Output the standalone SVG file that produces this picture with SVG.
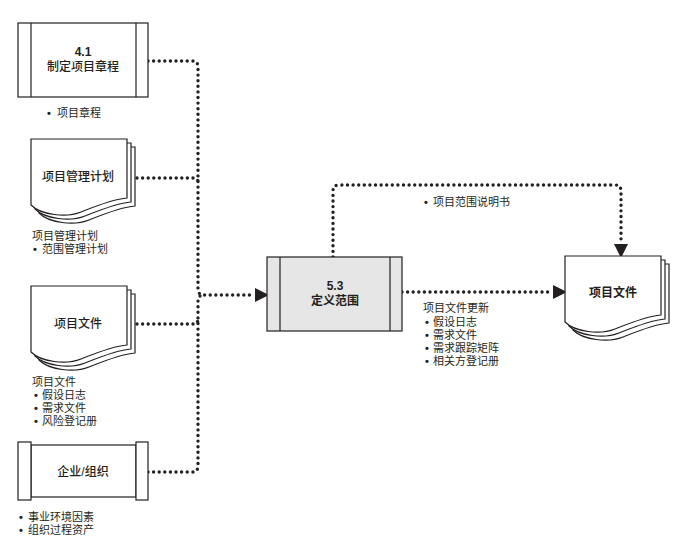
<svg xmlns="http://www.w3.org/2000/svg" xmlns:xlink="http://www.w3.org/1999/xlink" width="691" height="560" viewBox="0 0 691 560">
<style>
.sh{fill:#fff;stroke:#231f20;stroke-width:1.2}
.gr{fill:#e6e6e6;stroke:#231f20;stroke-width:1.2}
.dot{fill:none;stroke:#231f20;stroke-width:3.4;stroke-dasharray:0 5.6;stroke-linecap:round}
text{font-family:"Liberation Sans","Noto Sans CJK SC",sans-serif;fill:#231f20}
.t{font-size:12px;text-anchor:middle;font-weight:500}
.b{font-size:12px;text-anchor:middle;font-weight:bold}
.l{font-size:11px}
.bu{font-weight:bold}
</style>
<defs>
<path id="page" d="M0,0 H96 V59 C82,60 65,67 50,73 C35,79 10,76 0,66 Z"/>
<g id="doc">
<use xlink:href="#page" class="sh" transform="translate(8,8)"/>
<use xlink:href="#page" class="sh" transform="translate(4,4)"/>
<use xlink:href="#page" class="sh"/>
</g>
<marker id="ah" markerUnits="userSpaceOnUse" markerWidth="14" markerHeight="14" viewBox="0 0 12 12" refX="0" refY="6" orient="auto">
<path d="M0,0 L12,6 L0,12 Z" fill="#231f20"/>
</marker>
</defs>

<g id="connectors">
<path class="dot" d="M148,61 H192 Q198,61 198,67 V289 Q198,295 204,295 H255" marker-end="url(#ah)"/>
<path class="dot" d="M137,178 H193 Q198,178 198,182"/>
<path class="dot" d="M137,324 H193 Q198,324 198,319"/>
<path class="dot" d="M148,472 H192 Q198,472 198,466 V301 Q198,295 204,295"/>
<path class="dot" d="M333,257 V191 Q333,185 339,185 H615 Q621,185 621,191 V244" marker-end="url(#ah)"/>
<path class="dot" d="M402,292 H553" marker-end="url(#ah)"/>
</g>

<g id="n41">
<rect class="sh" x="18" y="23" width="130" height="74"/>
<line class="sh" x1="31" y1="23" x2="31" y2="97"/>
<line class="sh" x1="136" y1="23" x2="136" y2="97"/>
<text class="b" x="83" y="56">4.1</text>
<text class="t" x="83" y="71">制定项目章程</text>
<text class="l" x="47" y="117"><tspan class="bu">•</tspan><tspan x="57">项目章程</tspan></text>
</g>

<g id="pmplan">
<use xlink:href="#doc" transform="translate(31,139)"/>
<text class="t" x="78" y="181">项目管理计划</text>
<text class="l" x="32" y="240">项目管理计划</text>
<text class="l" x="33" y="253"><tspan class="bu">•</tspan><tspan x="42">范围管理计划</tspan></text>
</g>

<g id="pdocs">
<use xlink:href="#doc" transform="translate(31,286)"/>
<text class="t" x="78" y="328">项目文件</text>
<text class="l" x="32" y="386">项目文件</text>
<text class="l" x="34" y="399"><tspan class="bu">•</tspan><tspan x="42">假设日志</tspan></text>
<text class="l" x="34" y="412"><tspan class="bu">•</tspan><tspan x="42">需求文件</tspan></text>
<text class="l" x="34" y="425"><tspan class="bu">•</tspan><tspan x="42">风险登记册</tspan></text>
</g>

<g id="ent">
<rect class="sh" x="31" y="445" width="105" height="52"/>
<rect class="sh" x="18" y="442" width="13" height="58"/>
<rect class="sh" x="136" y="442" width="12" height="58"/>
<text class="t" x="83" y="476">企业/组织</text>
<text class="l" x="19" y="521"><tspan class="bu">•</tspan><tspan x="28">事业环境因素</tspan></text>
<text class="l" x="19" y="534"><tspan class="bu">•</tspan><tspan x="28">组织过程资产</tspan></text>
</g>

<g id="n53">
<rect class="gr" x="267" y="257" width="135" height="74"/>
<line class="sh" x1="280" y1="257" x2="280" y2="331"/>
<line class="sh" x1="390" y1="257" x2="390" y2="331"/>
<text class="b" x="335" y="290">5.3</text>
<text class="b" x="335" y="305">定义范围</text>
</g>

<g id="out">
<use xlink:href="#doc" transform="translate(565,256)"/>
<text class="b" x="613" y="297">项目文件</text>
<text class="l" x="424" y="206"><tspan class="bu">•</tspan><tspan x="433">项目范围说明书</tspan></text>
<text class="l" x="423" y="312">项目文件更新</text>
<text class="l" x="425" y="326"><tspan class="bu">•</tspan><tspan x="433">假设日志</tspan></text>
<text class="l" x="425" y="339"><tspan class="bu">•</tspan><tspan x="433">需求文件</tspan></text>
<text class="l" x="425" y="352"><tspan class="bu">•</tspan><tspan x="433">需求跟踪矩阵</tspan></text>
<text class="l" x="425" y="365"><tspan class="bu">•</tspan><tspan x="433">相关方登记册</tspan></text>
</g>
</svg>
